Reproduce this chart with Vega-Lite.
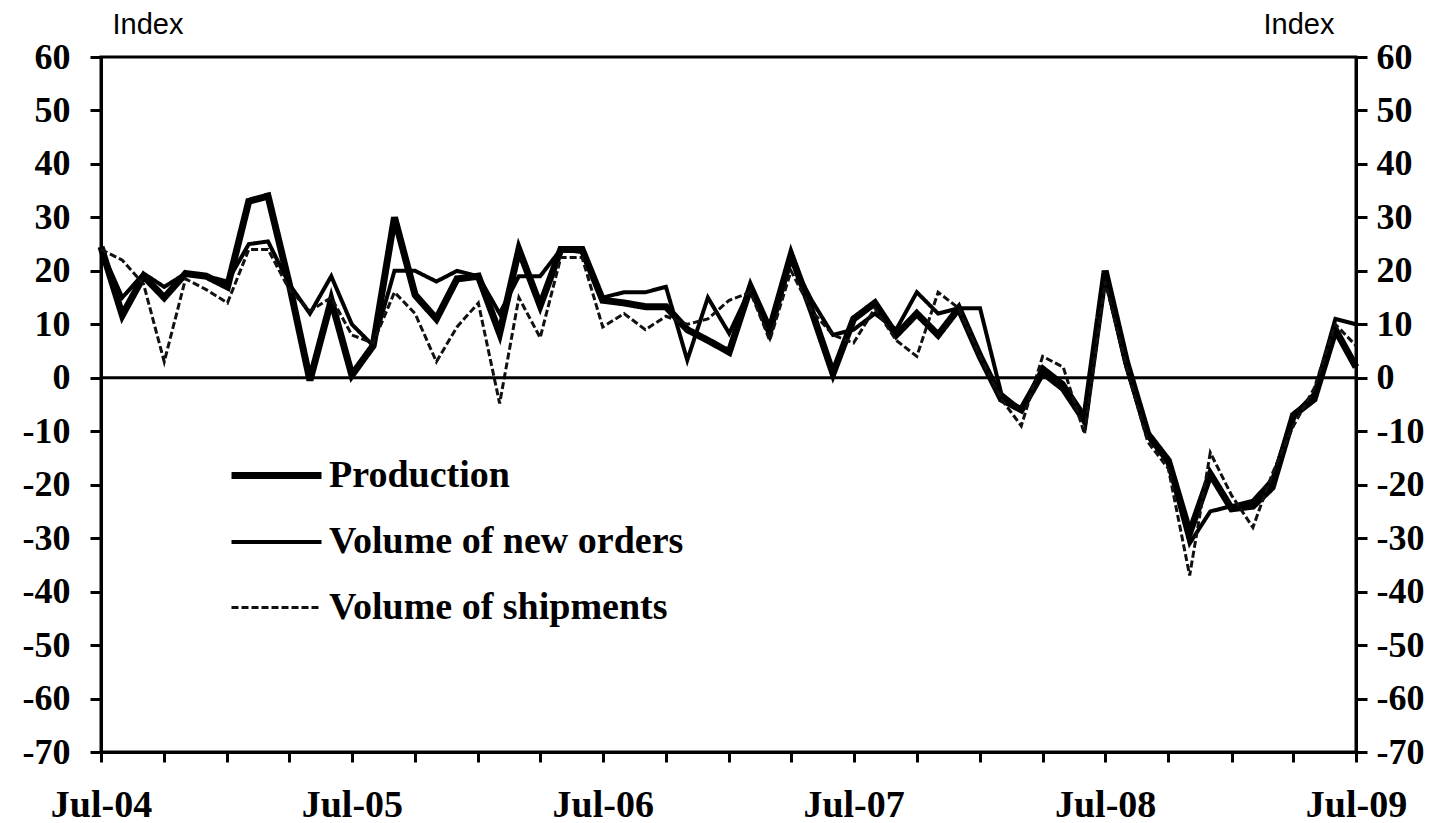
{
  "$schema": "https://vega.github.io/schema/vega-lite/v6.json",
  "width": 1255,
  "height": 695,
  "autosize": {"type": "none"},
  "padding": {"left": 101, "top": 57, "right": 84, "bottom": 71},
  "background": "white",
  "config": {
    "view": {"stroke": "black", "strokeWidth": 3},
    "legend": {
      "orient": "none",
      "legendX": 127,
      "legendY": 370,
      "title": null,
      "symbolType": "stroke",
      "symbolSize": 8100,
      "labelFont": "Liberation Serif",
      "labelFontWeight": "bold",
      "labelFontSize": 38,
      "labelColor": "black",
      "labelOffset": 4,
      "labelLimit": 0,
      "rowPadding": 0
    }
  },
  "data": {
    "values": [
      {"date":"2004-07-01","Production":24.5,"Volume of new orders":24,"Volume of shipments":24},
      {"date":"2004-08-01","Production":11.7,"Volume of new orders":15,"Volume of shipments":22},
      {"date":"2004-09-01","Production":19,"Volume of new orders":19.5,"Volume of shipments":17.5},
      {"date":"2004-10-01","Production":15,"Volume of new orders":17,"Volume of shipments":3},
      {"date":"2004-11-01","Production":19.5,"Volume of new orders":19.5,"Volume of shipments":18.5},
      {"date":"2004-12-01","Production":19,"Volume of new orders":19,"Volume of shipments":16.5},
      {"date":"2005-01-01","Production":17,"Volume of new orders":18,"Volume of shipments":14},
      {"date":"2005-02-01","Production":33,"Volume of new orders":25,"Volume of shipments":24},
      {"date":"2005-03-01","Production":34,"Volume of new orders":25.5,"Volume of shipments":24},
      {"date":"2005-04-01","Production":17.5,"Volume of new orders":17.5,"Volume of shipments":16.5},
      {"date":"2005-05-01","Production":-0.5,"Volume of new orders":12,"Volume of shipments":12.5},
      {"date":"2005-06-01","Production":14.5,"Volume of new orders":19,"Volume of shipments":15},
      {"date":"2005-07-01","Production":0.5,"Volume of new orders":10,"Volume of shipments":8},
      {"date":"2005-08-01","Production":6,"Volume of new orders":6,"Volume of shipments":6.5},
      {"date":"2005-09-01","Production":30,"Volume of new orders":20,"Volume of shipments":16},
      {"date":"2005-10-01","Production":15.5,"Volume of new orders":20,"Volume of shipments":12},
      {"date":"2005-11-01","Production":11,"Volume of new orders":18,"Volume of shipments":3},
      {"date":"2005-12-01","Production":18.5,"Volume of new orders":20,"Volume of shipments":9.5},
      {"date":"2006-01-01","Production":19,"Volume of new orders":19,"Volume of shipments":14},
      {"date":"2006-02-01","Production":8.3,"Volume of new orders":12,"Volume of shipments":-4.8},
      {"date":"2006-03-01","Production":24,"Volume of new orders":19,"Volume of shipments":15},
      {"date":"2006-04-01","Production":13.5,"Volume of new orders":19,"Volume of shipments":7.5},
      {"date":"2006-05-01","Production":24,"Volume of new orders":24,"Volume of shipments":22.5},
      {"date":"2006-06-01","Production":24,"Volume of new orders":23.5,"Volume of shipments":22.5},
      {"date":"2006-07-01","Production":14.5,"Volume of new orders":15,"Volume of shipments":9.5},
      {"date":"2006-08-01","Production":14,"Volume of new orders":16,"Volume of shipments":12},
      {"date":"2006-09-01","Production":13.3,"Volume of new orders":16,"Volume of shipments":9},
      {"date":"2006-10-01","Production":13.3,"Volume of new orders":17,"Volume of shipments":11.5},
      {"date":"2006-11-01","Production":9,"Volume of new orders":3.3,"Volume of shipments":10},
      {"date":"2006-12-01","Production":7,"Volume of new orders":15,"Volume of shipments":11},
      {"date":"2007-01-01","Production":4.8,"Volume of new orders":8.3,"Volume of shipments":14.5},
      {"date":"2007-02-01","Production":17,"Volume of new orders":16.7,"Volume of shipments":16},
      {"date":"2007-03-01","Production":9,"Volume of new orders":7.7,"Volume of shipments":7},
      {"date":"2007-04-01","Production":23,"Volume of new orders":22,"Volume of shipments":20},
      {"date":"2007-05-01","Production":12.5,"Volume of new orders":14.5,"Volume of shipments":12.5},
      {"date":"2007-06-01","Production":0.8,"Volume of new orders":8,"Volume of shipments":8},
      {"date":"2007-07-01","Production":11,"Volume of new orders":9,"Volume of shipments":6.5},
      {"date":"2007-08-01","Production":14,"Volume of new orders":12,"Volume of shipments":13},
      {"date":"2007-09-01","Production":8,"Volume of new orders":9,"Volume of shipments":7},
      {"date":"2007-10-01","Production":12,"Volume of new orders":16,"Volume of shipments":4},
      {"date":"2007-11-01","Production":8,"Volume of new orders":12,"Volume of shipments":16},
      {"date":"2007-12-01","Production":13,"Volume of new orders":13,"Volume of shipments":13},
      {"date":"2008-01-01","Production":4,"Volume of new orders":13,"Volume of shipments":4},
      {"date":"2008-02-01","Production":-4,"Volume of new orders":-3,"Volume of shipments":-4},
      {"date":"2008-03-01","Production":-6,"Volume of new orders":-6,"Volume of shipments":-9},
      {"date":"2008-04-01","Production":1,"Volume of new orders":2,"Volume of shipments":4},
      {"date":"2008-05-01","Production":-2,"Volume of new orders":-1,"Volume of shipments":2},
      {"date":"2008-06-01","Production":-8,"Volume of new orders":-7,"Volume of shipments":-10.5},
      {"date":"2008-07-01","Production":20,"Volume of new orders":19,"Volume of shipments":18},
      {"date":"2008-08-01","Production":3,"Volume of new orders":2,"Volume of shipments":2},
      {"date":"2008-09-01","Production":-10.5,"Volume of new orders":-11,"Volume of shipments":-12},
      {"date":"2008-10-01","Production":-15.5,"Volume of new orders":-16,"Volume of shipments":-17},
      {"date":"2008-11-01","Production":-29,"Volume of new orders":-31,"Volume of shipments":-37},
      {"date":"2008-12-01","Production":-18,"Volume of new orders":-25,"Volume of shipments":-14},
      {"date":"2009-01-01","Production":-24.5,"Volume of new orders":-24,"Volume of shipments":-22},
      {"date":"2009-02-01","Production":-24,"Volume of new orders":-23,"Volume of shipments":-28},
      {"date":"2009-03-01","Production":-20.5,"Volume of new orders":-19,"Volume of shipments":-18},
      {"date":"2009-04-01","Production":-7,"Volume of new orders":-7,"Volume of shipments":-9},
      {"date":"2009-05-01","Production":-4,"Volume of new orders":-3,"Volume of shipments":-2},
      {"date":"2009-06-01","Production":9,"Volume of new orders":11,"Volume of shipments":10},
      {"date":"2009-07-01","Production":2,"Volume of new orders":10,"Volume of shipments":6}
    ]
  },
  "transform": [
    {"fold": ["Production", "Volume of new orders", "Volume of shipments"], "as": ["series", "value"]}
  ],
  "layer": [
    {
      "mark": {"type": "line", "strokeJoin": "miter", "strokeCap": "butt"},
      "encoding": {
        "x": {
          "field": "date",
          "type": "temporal",
          "scale": {"type": "utc", "domain": [{"year": 2004, "month": 7, "date": 1, "utc": true}, {"year": 2009, "month": 7, "date": 1, "utc": true}]},
          "axis": {
            "title": null,
            "grid": false,
            "domainColor": "black",
            "domainWidth": 3,
            "tickColor": "black",
            "tickWidth": 3,
            "tickSize": 10,
            "tickCount": {"interval": "month", "step": 3},
            "labelExpr": "utcFormat(datum.value, '%m') == '07' ? utcFormat(datum.value, '%b-%y') : ''",
            "labelFont": "Liberation Serif",
            "labelFontWeight": "bold",
            "labelFontSize": 38,
            "labelColor": "black",
            "labelPadding": 24,
            "labelOverlap": false,
            "labelFlush": false,
            "labelBound": false
          }
        },
        "y": {
          "field": "value",
          "type": "quantitative",
          "scale": {"domain": [-70, 60], "nice": false, "zero": false},
          "axis": {
            "orient": "left",
            "title": "Index",
            "titleAngle": 0,
            "titleAlign": "left",
            "titleBaseline": "middle",
            "titleX": 11,
            "titleY": -33,
            "titleFont": "Liberation Sans",
            "titleFontWeight": "normal",
            "titleFontSize": 29,
            "titleColor": "black",
            "grid": false,
            "values": [-70, -60, -50, -40, -30, -20, -10, 0, 10, 20, 30, 40, 50, 60],
            "labelExpr": "'' + datum.value",
            "labelFont": "Liberation Serif",
            "labelFontWeight": "bold",
            "labelFontSize": 36,
            "labelColor": "black",
            "labelPadding": 20,
            "labelFlush": false,
            "labelBound": false,
            "domainColor": "black",
            "domainWidth": 3,
            "tickColor": "black",
            "tickWidth": 3,
            "tickSize": 11
          }
        },
        "color": {
          "field": "series",
          "type": "nominal",
          "scale": {"domain": ["Production", "Volume of new orders", "Volume of shipments"], "range": ["#000000", "#000000", "#111111"]}
        },
        "strokeWidth": {
          "field": "series",
          "type": "nominal",
          "scale": {"type": "ordinal", "domain": ["Production", "Volume of new orders", "Volume of shipments"], "range": [7, 4, 3]}
        },
        "strokeDash": {
          "field": "series",
          "type": "nominal",
          "scale": {"domain": ["Production", "Volume of new orders", "Volume of shipments"], "range": [[1, 0], [1, 0], [7, 3]]}
        }
      }
    },
    {
      "data": {"values": [{"level": 0}]},
      "mark": {"type": "rule", "color": "black", "strokeWidth": 3},
      "encoding": {
        "y": {
          "field": "level",
          "type": "quantitative",
          "axis": {
            "orient": "right",
            "title": "Index",
            "titleAngle": 0,
            "titleAlign": "right",
            "titleBaseline": "middle",
            "titleX": -22,
            "titleY": -33,
            "titleFont": "Liberation Sans",
            "titleFontWeight": "normal",
            "titleFontSize": 29,
            "titleColor": "black",
            "grid": false,
            "values": [-70, -60, -50, -40, -30, -20, -10, 0, 10, 20, 30, 40, 50, 60],
            "labelExpr": "'' + datum.value",
            "labelFont": "Liberation Serif",
            "labelFontWeight": "bold",
            "labelFontSize": 36,
            "labelColor": "black",
            "labelPadding": 9,
            "labelFlush": false,
            "labelBound": false,
            "domainColor": "black",
            "domainWidth": 3,
            "tickColor": "black",
            "tickWidth": 3,
            "tickSize": 11
          }
        }
      }
    }
  ],
  "resolve": {"axis": {"y": "independent"}}
}
